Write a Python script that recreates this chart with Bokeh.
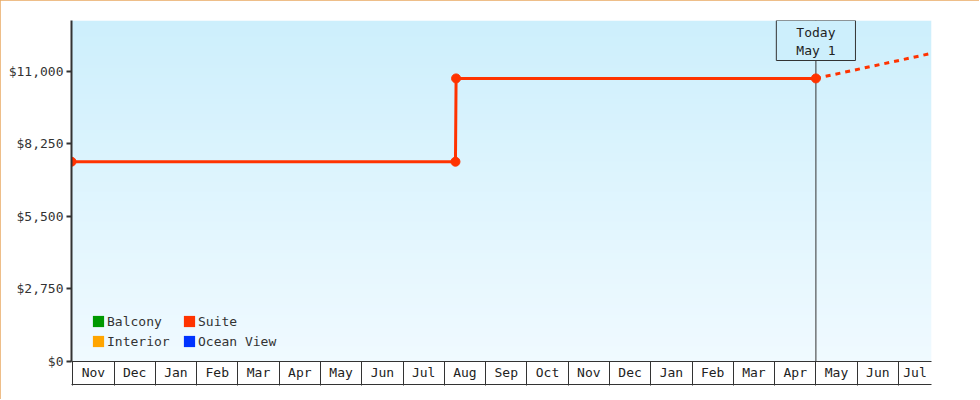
import numpy as np
from bokeh.plotting import figure
from bokeh.models import (Range1d, LinearAxis, FixedTicker, NumeralTickFormatter, Label,
                          Span, Legend, LegendItem, GlobalInlineStyleSheet)
from bokeh.embed import file_html
from bokeh.resources import INLINE

# ---------------- data ----------------
months = ["Nov", "Dec", "Jan", "Feb", "Mar", "Apr", "May", "Jun", "Jul", "Aug", "Sep",
          "Oct", "Nov", "Dec", "Jan", "Feb", "Mar", "Apr", "May", "Jun", "Jul"]
y_ticks = [0, 2750, 5500, 8250, 11000]
y_max = 12920
x_start, x_end = -0.03, 20.80          # month index (Nov = 0)

suite_x = [-0.03, 9.27, 9.285, 18.0]   # Oct 31, Aug 9, Aug 10, May 1
suite_y = [7570, 7570, 10725, 10725]
proj_x = [18.0, 20.80]                 # May 1 -> late Jul (projection)
proj_y = [10725, 11675]
today_x = 18.0
today_text = "Today\nMay 1"

series_names = ["Balcony", "Interior", "Suite", "Ocean View"]
series_colors = ["#009900", "#ffa500", "#ff3300", "#0033ff"]

grad_top = (205, 239, 252)
grad_bottom = (240, 250, 255)

FONT = "DejaVu Sans Mono"
W, H = 979, 399

p = figure(width=W, height=H, output_backend="svg", toolbar_location=None,
           x_range=Range1d(x_start, x_end), y_range=Range1d(0, y_max),
           min_border_left=71, min_border_right=W - 931, min_border_top=20,
           min_border_bottom=H - 361, x_axis_location=None, y_axis_location="left")
p.grid.visible = False
p.outline_line_color = None
p.background_fill_color = "white"
p.border_fill_color = "white"
p.stylesheets = [GlobalInlineStyleSheet(css="html,body{margin:0;padding:0;}")]
p.styles = {"outline": "1px solid #e9a962", "outline-offset": "-1px"}

# background gradient
n = 341
t = np.linspace(0.0, 1.0, n)[:, None]
img = np.empty((n, 1), dtype=np.uint32)
view = img.view(dtype=np.uint8).reshape((n, 1, 4))
for k in range(3):
    view[:, :, k] = np.round(grad_bottom[k] + (grad_top[k] - grad_bottom[k]) * t).astype(np.uint8)
view[:, :, 3] = 255
p.image_rgba(image=[img], x=x_start, y=0, dw=x_end - x_start, dh=y_max, level="image")

# today line
p.add_layout(Span(location=today_x, dimension="height", line_color="#333333",
                  line_width=1, level="underlay"))

# suite series
p.line(suite_x, suite_y, line_color="#ff3300", line_width=3)
p.line(proj_x, proj_y, line_color="#ff3300", line_width=3, line_dash="5 5")
p.scatter(suite_x, suite_y, size=9, color="#ff3300")

# legend (series without plotted data are NaN placeholders)
nan = float("nan")
items = []
for name, col in zip(series_names, series_colors):
    r = p.quad(left=[nan], right=[nan], top=[nan], bottom=[nan], fill_color=col, line_color=None)
    items.append(LegendItem(label=name, renderers=[r]))
legend = Legend(items=items, location=(20, 10), nrows=2, orientation="vertical",
                background_fill_alpha=0, border_line_color=None, padding=0, margin=0,
                spacing=0, glyph_width=14, glyph_height=14, label_height=20,
                label_standoff=2, label_width=75, label_text_font=FONT,
                label_text_font_size="13px", label_text_color="#333333")
p.add_layout(legend)

# y axis
ya = p.yaxis[0]
ya.ticker = FixedTicker(ticks=y_ticks)
ya.formatter = NumeralTickFormatter(format="$0,0")
ya.axis_line_color = "#333333"
ya.axis_line_width = 2
ya.major_tick_line_color = "#333333"
ya.major_tick_line_width = 2
ya.major_tick_out = 5
ya.major_tick_in = 0
ya.minor_tick_line_color = None
ya.major_label_standoff = 3
ya.major_label_text_font = FONT
ya.major_label_text_font_size = "13px"
ya.major_label_text_color = "#333333"

# x axis: month boxes
mid = [min(i + 0.5, (i + x_end) / 2) for i in range(len(months))]
bounds = list(range(len(months)))
xa = LinearAxis(ticker=FixedTicker(ticks=mid, minor_ticks=bounds),
                major_label_overrides={m: lab for m, lab in zip(mid, months)})
xa.axis_line_color = "#333333"
xa.axis_line_width = 1
xa.major_tick_line_color = None
xa.major_tick_in = 0
xa.major_tick_out = 0
xa.minor_tick_line_color = "#333333"
xa.minor_tick_line_width = 1
xa.minor_tick_in = 0
xa.minor_tick_out = 24
xa.major_label_standoff = -21
xa.major_label_text_font = FONT
xa.major_label_text_font_size = "13px"
xa.major_label_text_color = "#222222"
xa.axis_label = " "
xa.axis_label_text_font_size = "1px"
xa.axis_label_standoff = -2
p.add_layout(xa, "below")

xb = LinearAxis(ticker=FixedTicker(ticks=[]))
xb.axis_line_color = "#333333"
xb.axis_line_width = 1
xb.major_tick_line_color = None
xb.minor_tick_line_color = None
xb.major_tick_out = 0
xb.major_label_standoff = 0
xb.major_label_text_font_size = "0px"
p.add_layout(xb, "below")

# today label
p.add_layout(Label(x=today_x, y=y_max, text=today_text, text_align="center",
                   text_baseline="top", text_font=FONT, text_font_size="13px",
                   text_color="#222222", background_fill_color="#cdeffc",
                   border_line_color="#333333", border_line_width=1,
                   padding=dict(left=20, right=20, top=4, bottom=3)))

open("out.html", "w").write(file_html(p, INLINE))
